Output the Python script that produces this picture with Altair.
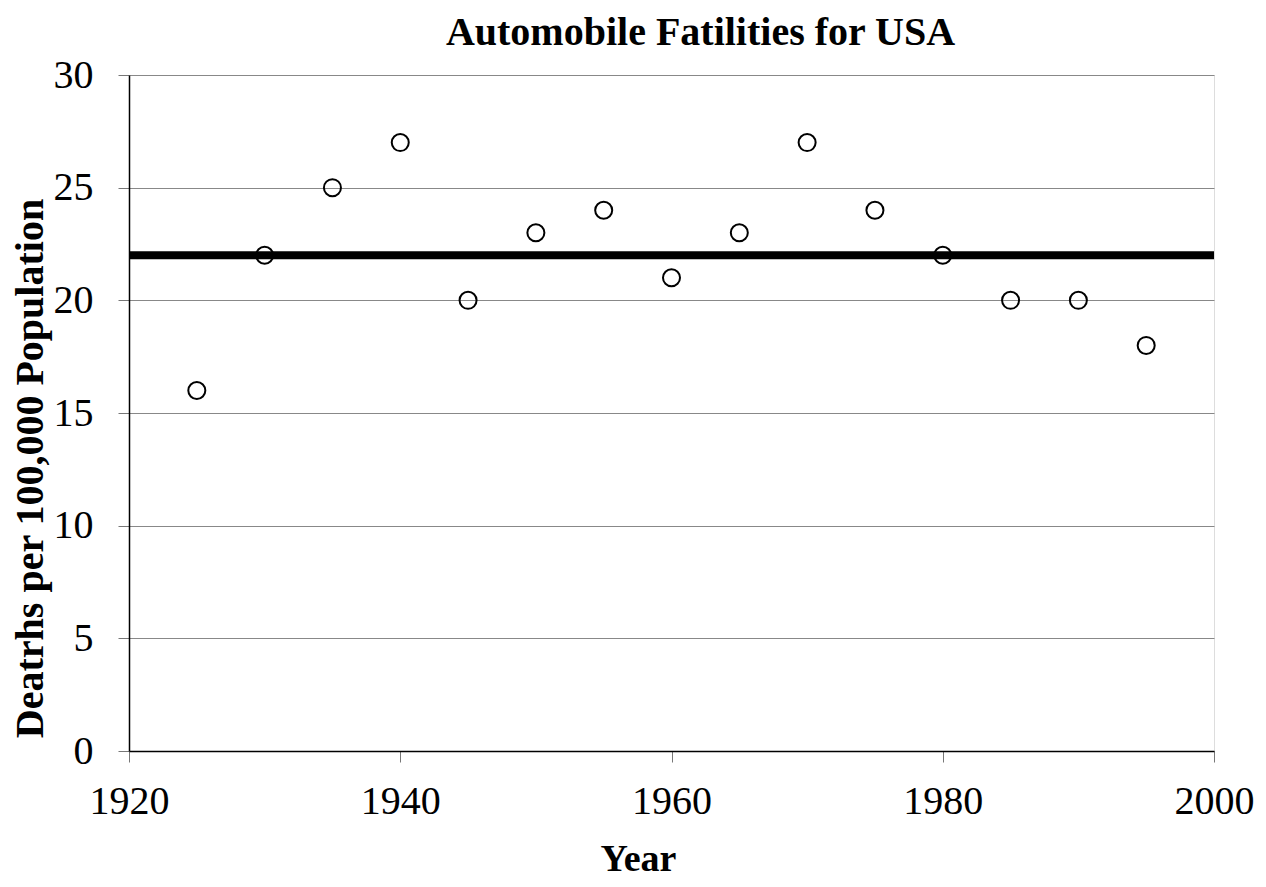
import altair as alt
import pandas as pd

years = [1925, 1930, 1935, 1940, 1945, 1950, 1955, 1960, 1965, 1970, 1975, 1980, 1985, 1990, 1995]
deaths = [16, 22, 25, 27, 20, 23, 24, 21, 23, 27, 24, 22, 20, 20, 18]
avg_start = [1920]
avg_end = [2000]
avg_value = [22]
x_ticks = [1920, 1940, 1960, 1980, 2000]
y_ticks = [0, 5, 10, 15, 20, 25, 30]
title_text = ["Automobile Fatilities for USA"]

df = pd.DataFrame({"Year": years, "Deaths": deaths})
avg = pd.DataFrame({"x1": avg_start, "x2": avg_end, "y": avg_value})
title_df = pd.DataFrame({"t": title_text})

FONT = "Liberation Serif"

x_scale = alt.Scale(domain=[1920, 2000], nice=False, zero=False)
y_scale = alt.Scale(domain=[0, 30], nice=False)

x_axis = alt.Axis(
    values=x_ticks, format="d", title="Year", grid=False,
    labelFont=FONT, labelFontSize=40, labelColor="black", labelPadding=19,
    labelFlush=False,
    tickSize=11, tickColor="#777", domainColor="black", domainWidth=1.5,
    titleFont=FONT, titleFontSize=38, titleFontWeight="bold", titleColor="black",
    titleX=509, titleY=119, titleBaseline="alphabetic", titleAlign="center",
)
y_axis = alt.Axis(
    values=y_ticks, title="Deatrhs per 100,000 Population", grid=True,
    gridColor="#888", gridWidth=1, gridOpacity=1,
    labelFont=FONT, labelFontSize=40, labelColor="black", labelPadding=25,
    labelFlush=False,
    tickSize=11, tickColor="#777", domainColor="black", domainWidth=1.5,
    titleFont=FONT, titleFontSize=40, titleFontWeight="bold", titleColor="black",
    titleAngle=270, titleX=-87, titleY=393, titleBaseline="alphabetic", titleAlign="center",
)

rule = alt.Chart(avg).mark_rule(color="black", strokeWidth=8).encode(
    x=alt.X("x1:Q", scale=x_scale, axis=x_axis),
    x2="x2:Q",
    y=alt.Y("y:Q", scale=y_scale, axis=y_axis),
)

points = alt.Chart(df).mark_point(
    shape="circle", filled=False, stroke="black", strokeWidth=2, size=290, opacity=1
).encode(
    x=alt.X("Year:Q", scale=x_scale, axis=x_axis),
    y=alt.Y("Deaths:Q", scale=y_scale, axis=y_axis),
)

title = alt.Chart(title_df).mark_text(
    font=FONT, fontSize=40, fontWeight="bold", color="black",
    align="center", baseline="alphabetic",
).encode(
    text="t:N",
    x=alt.value(571.5),
    y=alt.value(-30),
)

chart = alt.layer(rule, points, title).properties(
    width=1085,
    height=676,
    autosize=alt.AutoSizeParams(type="none"),
    padding={"left": 121, "top": 67, "right": 40, "bottom": 128},
).configure_view(stroke="black", strokeWidth=1).configure(background="white")

chart.save("out.html", embed_options={"renderer": "svg", "actions": False})
